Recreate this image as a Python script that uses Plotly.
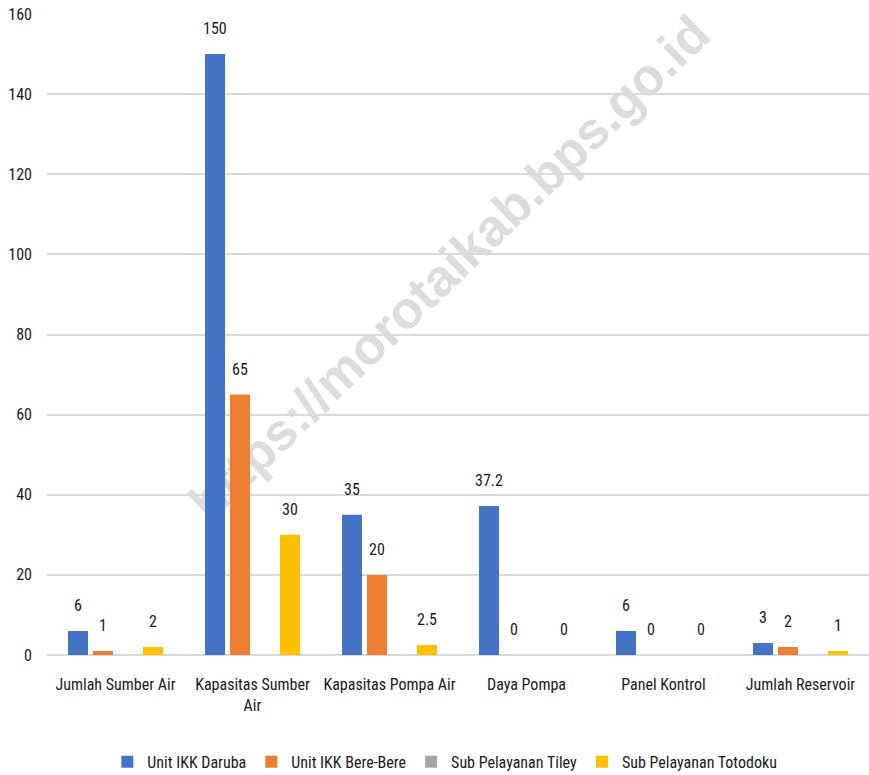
import plotly.graph_objects as go

# Water supply infrastructure by service unit
categories = [
    "Jumlah Sumber Air",
    "Kapasitas Sumber<br>Air",
    "Kapasitas Pompa Air",
    "Daya Pompa",
    "Panel Kontrol",
    "Jumlah Reservoir",
]
series_names = [
    "Unit IKK Daruba",
    "Unit IKK Bere-Bere",
    "Sub Pelayanan Tiley",
    "Sub Pelayanan Totodoku",
]
daruba = [6, 150, 35, 37.2, 6, 3]
bere_bere = [1, 65, 20, 0, 0, 2]
tiley = [None, None, None, None, None, None]
totodoku = [2, 30, 2.5, 0, 0, 1]

y_ticks = [0, 20, 40, 60, 80, 100, 120, 140, 160]

colors = ["#4472C4", "#ED7D31", "#A5A5A5", "#FFC000"]
font_family = "Liberation Sans Narrow, Roboto Condensed, Liberation Sans, sans-serif"
text_color = "#1a1a1a"

BARGAP = 0.27
all_series = [daruba, bere_bere, tiley, totodoku]
n_series = len(all_series)

fig = go.Figure()
for name, vals, col in zip(series_names, all_series, colors):
    fig.add_trace(go.Bar(
        x=categories,
        y=vals,
        name=name,
        marker=dict(color=col, line=dict(width=0)),
        hoverinfo="x+y+name",
    ))

# value labels above each bar, placed at the centre of each bar slot
slot = (1 - BARGAP) / n_series
for k, vals in enumerate(all_series):
    for i, v in enumerate(vals):
        if v is None:
            continue
        fig.add_annotation(
            x=i + (k - (n_series - 1) / 2) * slot,
            y=v,
            xref="x", yref="y",
            text=f"{v:g}",
            showarrow=False,
            yanchor="bottom",
            yshift=14,
            font=dict(family=font_family, size=16, color=text_color),
        )

# diagonal site watermark, kept underneath the bars
fig.add_shape(
    type="rect",
    xref="paper", yref="paper",
    x0=0.175, x1=0.795, y0=0.30, y1=0.92,
    layer="below",
    line=dict(width=0),
    fillcolor="rgba(0,0,0,0)",
    label=dict(
        text="https://morotaikab.bps.go.id",
        textangle=-44,
        textposition="middle center",
        font=dict(family="Liberation Sans, Arial, sans-serif", size=52,
                  color="#dcdcdc", weight="bold"),
    ),
)

fig.update_layout(
    width=869,
    height=775,
    margin=dict(l=47, r=0, t=14, b=120),
    paper_bgcolor="white",
    plot_bgcolor="white",
    barmode="group",
    bargap=BARGAP,
    bargroupgap=0.2,
    showlegend=True,
    legend=dict(
        orientation="h",
        x=0.484, xanchor="center",
        yref="container",
        y=0.017, yanchor="middle",
        font=dict(family=font_family, size=16, color=text_color),
        itemwidth=30,
        traceorder="normal",
    ),
)

fig.update_xaxes(
    showgrid=False,
    showline=False,
    tickfont=dict(family=font_family, size=16, color=text_color),
    ticks="",
    ticklabelstandoff=18,
)
fig.update_yaxes(
    range=[0, 160],
    tickvals=y_ticks,
    showgrid=True,
    gridcolor="#d9d9d9",
    gridwidth=1.5,
    zeroline=True,
    zerolinecolor="#d9d9d9",
    zerolinewidth=1.5,
    showline=False,
    tickfont=dict(family=font_family, size=16, color=text_color),
    ticks="",
    ticklabelstandoff=14,
)

fig.write_html("out.html")
